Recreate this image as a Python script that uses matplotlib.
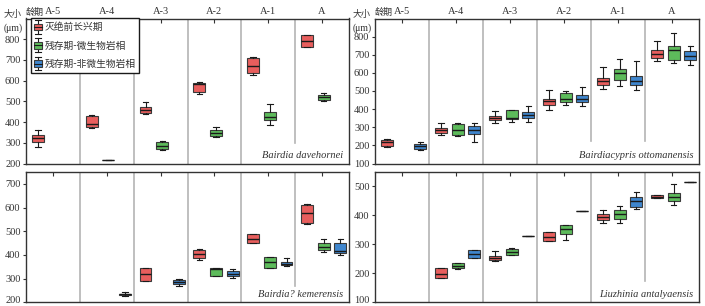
import matplotlib
matplotlib.use('Agg')
import matplotlib.pyplot as plt
from matplotlib.legend_handler import HandlerBase
from matplotlib.patches import Rectangle
from matplotlib.lines import Line2D
from matplotlib.transforms import ScaledTranslation

plt.rcParams['font.family'] = ['Liberation Serif', 'Noto Sans CJK SC', 'DejaVu Sans']

ages = ['A-5', 'A-4', 'A-3', 'A-2', 'A-1', 'A']
series_names = ['灭绝前长兴期', '残存期-微生物岩相', '残存期-非微生物岩相']

# box stats per age: [whisker low, q1, median, q3, whisker high]
davehornei_pre = [[280, 302, 322, 338, 362], [370, 375, 390, 430, 433], [441, 446, 459, 472, 495],
                  [535, 547, 586, 590, 592], [628, 636, 673, 709, 714], [762, 764, 789, 818, 822]]
davehornei_mic = [None, [215, 215, 215, 215, 215], [267, 270, 285, 304, 310],
                  [327, 335, 349, 363, 375], [388, 408, 424, 451, 487], [501, 507, 520, 531, 540]]
davehornei_non = [None, None, None, None, None, None]

ottomanensis_pre = [[190, 196, 217, 231, 236], [257, 268, 283, 296, 322], [324, 338, 351, 364, 388],
                    [397, 425, 443, 456, 508], [513, 535, 554, 569, 633], [663, 683, 705, 724, 777]]
ottomanensis_mic = [None, [253, 260, 285, 318, 322], [329, 346, 352, 393, 395],
                    [423, 440, 458, 491, 502], [530, 558, 600, 620, 678], [652, 670, 724, 751, 822]]
ottomanensis_non = [[174, 181, 196, 210, 217], [218, 263, 285, 305, 322], [329, 351, 369, 382, 419],
                    [415, 440, 458, 478, 523], [506, 532, 554, 585, 663], [646, 670, 694, 720, 750]]

kemerensis_pre = [None, None, [289, 289, 318, 344, 344], [379, 388, 404, 421, 427],
                  [451, 451, 469, 487, 487], [529, 536, 577, 612, 617]]
kemerensis_mic = [None, None, None, [312, 312, 339, 344, 344],
                  [346, 346, 368, 393, 393], [411, 422, 432, 450, 467]]
kemerensis_non = [None, [227, 232, 234, 237, 245], [268, 278, 285, 294, 298], [302, 310, 321, 332, 342],
                  [353, 356, 362, 368, 387], [400, 408, 418, 450, 467]]

antalyaensis_pre = [None, [183, 183, 198, 217, 217], [243, 246, 254, 261, 277], [310, 310, 326, 343, 343],
                    [375, 384, 396, 405, 420], [461, 461, 465, 469, 469]]
antalyaensis_mic = [None, [215, 217, 225, 234, 237], [262, 265, 274, 283, 286], [316, 336, 352, 366, 367],
                    [374, 387, 404, 419, 432], [437, 450, 465, 476, 507]]
antalyaensis_non = [None, [252, 252, 267, 282, 282], [330, 330, 330, 330, 330], [414, 414, 414, 414, 414],
                    [423, 429, 450, 462, 481], [515, 515, 515, 515, 515]]

colors = ['#e85e5d', '#5dbb5b', '#3f86ce']
offsets = [0.22, 0.53, 0.84]
EDGE = '#3a3a3a'
TXT = '#333333'

W, H = 705, 306
fig = plt.figure(figsize=(W / 100, H / 100), dpi=100)


def add_ax(x0, y0, x1, y1):
    return fig.add_axes([x0 / W, 1 - y1 / H, (x1 - x0) / W, (y1 - y0) / H])


def draw_series(ax, data, off, color):
    stats, pos = [], []
    for i, s in enumerate(data):
        if s is None:
            continue
        lo, q1, med, q3, hi = s
        stats.append(dict(whislo=lo, q1=q1, med=med, q3=q3, whishi=hi, fliers=[]))
        pos.append(i + off)
    if not stats:
        return
    ax.bxp(stats, positions=pos, widths=0.22, capwidths=0.1, patch_artist=True,
           showfliers=False, manage_ticks=False,
           boxprops=dict(facecolor=color, edgecolor=EDGE, linewidth=0.8),
           medianprops=dict(color='#1a1a1a', linewidth=1.0),
           whiskerprops=dict(color='#1a1a1a', linewidth=0.8),
           capprops=dict(color='#1a1a1a', linewidth=0.8), zorder=3)


def setup(ax, ylim, yticks, cuts, name, top_labels):
    ax.set_xlim(0, 6)
    ax.set_ylim(*ylim)
    for i in range(1, 6):
        lo = cuts.get(i, ylim[0])
        ax.plot([i, i], [lo, ylim[1]], color='#b4b4b4', lw=1.2, zorder=1)
    ax.set_yticks(yticks)
    ax.set_xticks([i + 0.5 for i in range(6)])
    ax.set_xticklabels(ages)
    ax.tick_params(axis='x', bottom=False, top=True, labelbottom=False, labeltop=top_labels,
                   direction='in', length=3, width=0.8, color=TXT, labelsize=7.5, labelcolor=TXT, pad=1.5)
    ax.tick_params(axis='y', direction='out', length=2.5, width=0.8, color=TXT,
                   labelsize=7.5, labelcolor=TXT, pad=1.5)
    for sp in ax.spines.values():
        sp.set_color(TXT)
        sp.set_linewidth(1.0)
    ax.text(0.982, 0.025, name, transform=ax.transAxes, ha='right', va='bottom',
            fontsize=7.5, style='italic', color=TXT, family='Liberation Serif',
            bbox=dict(facecolor='white', edgecolor='none', pad=0.5), zorder=2)


ax1 = add_ax(26, 18.5, 349, 163.5)
ax2 = add_ax(375, 18.5, 699, 163.5)
ax3 = add_ax(26, 172, 349, 302.3)
ax4 = add_ax(375, 172, 699, 302.3)

setup(ax1, (200, 900), range(200, 801, 100), {5: 300}, 'Bairdia davehornei', True)
setup(ax2, (100, 900), range(100, 801, 100), {4: 225, 5: 225}, 'Bairdiacypris ottomanensis', True)
setup(ax3, (200, 750), range(200, 701, 100), {5: 270}, 'Bairdia? kemerensis', False)
setup(ax4, (100, 550), range(100, 501, 100), {5: 175}, 'Liuzhinia antalyaensis', False)

panels = [(ax1, [davehornei_pre, davehornei_mic, davehornei_non]),
          (ax2, [ottomanensis_pre, ottomanensis_mic, ottomanensis_non]),
          (ax3, [kemerensis_pre, kemerensis_mic, kemerensis_non]),
          (ax4, [antalyaensis_pre, antalyaensis_mic, antalyaensis_non])]
for ax, datas in panels:
    for data, off, c in zip(datas, offsets, colors):
        draw_series(ax, data, off, c)

# the lowest tick label of the lower panels sits a little higher, as in the original
for ax in (ax3, ax4):
    lab = ax.yaxis.get_major_ticks()[0].label1
    lab.set_transform(lab.get_transform() + ScaledTranslation(0, 2.5 / 100, fig.dpi_scale_trans))


class BoxHandler(HandlerBase):
    def create_artists(self, legend, orig_handle, xdescent, ydescent, width, height, fontsize, trans):
        cx = width / 2 - xdescent
        cy = height / 2 - ydescent
        bw, bh = 6, 5
        arts = [Line2D([cx, cx], [cy - 5, cy + 5], color='#1a1a1a', lw=0.8, transform=trans),
                Line2D([cx - 2, cx + 2], [cy + 5, cy + 5], color='#1a1a1a', lw=0.8, transform=trans),
                Line2D([cx - 2, cx + 2], [cy - 5, cy - 5], color='#1a1a1a', lw=0.8, transform=trans),
                Rectangle((cx - bw / 2, cy - bh / 2), bw, bh, facecolor=orig_handle.get_facecolor(),
                          edgecolor=EDGE, lw=0.8, transform=trans),
                Line2D([cx - bw / 2, cx + bw / 2], [cy, cy], color='#1a1a1a', lw=0.8, transform=trans)]
        return arts


handles = [Rectangle((0, 0), 1, 1, facecolor=c) for c in colors]
leg = ax1.legend(handles, series_names, loc='upper left', bbox_to_anchor=(0.015, 1.0),
                 borderaxespad=0, handler_map={Rectangle: BoxHandler()},
                 prop={'family': ['Noto Sans CJK SC'], 'size': 7}, handlelength=0.7,
                 handletextpad=0.3, labelspacing=0.85, borderpad=0.4, fancybox=False,
                 framealpha=1, edgecolor='#1a1a1a')
leg.get_frame().set_linewidth(1.0)
for t in leg.get_texts():
    t.set_color(TXT)
leg.set_zorder(5)

for xl in (26, 375):
    fig.text((xl - 4) / W, 1 - 14 / H, '大小', ha='right', va='center', fontsize=6.5,
             color=TXT, family=['Noto Sans CJK SC'])
    fig.text((xl - 3) / W, 1 - 28 / H, '(μm)', ha='right', va='center', fontsize=7,
             color=TXT, family='Liberation Serif')
    fig.text((xl + 8.5) / W, 1 - 12 / H, '龄期', ha='center', va='center', fontsize=6.5,
             color=TXT, family=['Noto Sans CJK SC'])

fig.savefig('out.png', dpi=100)
